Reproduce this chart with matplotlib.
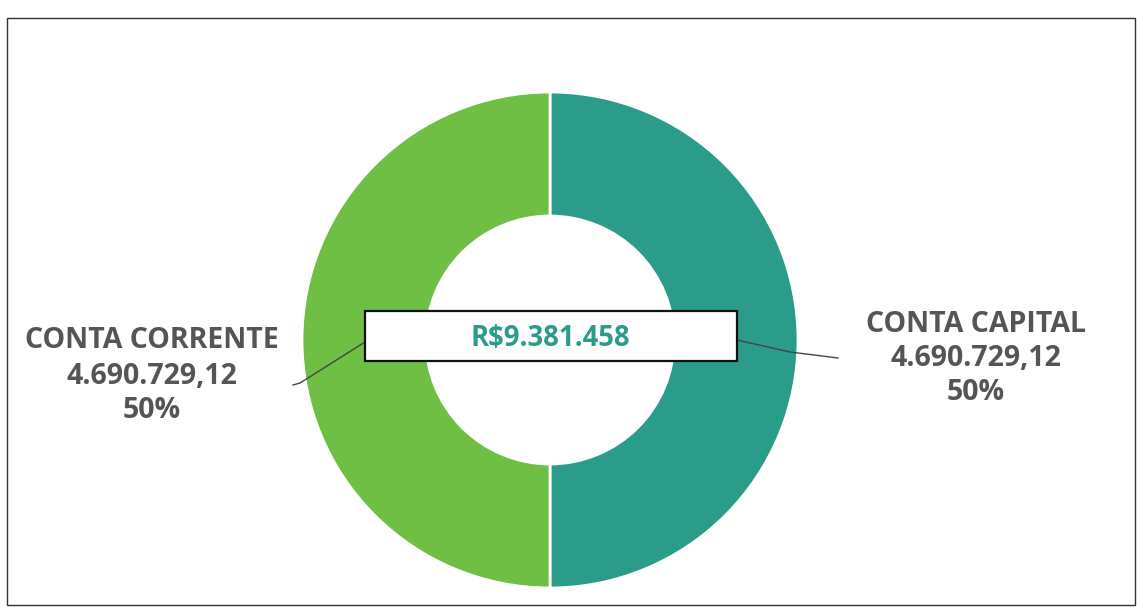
import matplotlib
matplotlib.use("Agg")
import matplotlib.pyplot as plt
from matplotlib.patches import Rectangle

categories = ["CONTA CAPITAL", "CONTA CORRENTE"]
values = [4690729.12, 4690729.12]
value_labels = ["4.690.729,12", "4.690.729,12"]
pct_labels = ["50%", "50%"]
total_label = "R$9.381.458"
colors = ["#2b9c8a", "#6fbf45"]

W, H = 1137, 609
fig = plt.figure(figsize=(W / 100, H / 100), dpi=100)
ax = fig.add_axes([0, 0, 1, 1])

def Y(y):
    return H - y

cx, cy, r = 550, Y(340), 248
ax.pie(values, colors=colors, startangle=90, counterclock=False, radius=r, center=(cx, cy),
       wedgeprops=dict(width=124, edgecolor="white", linewidth=2), frame=True)
ax.set_xlim(0, W)
ax.set_ylim(0, H)
ax.set_aspect("equal")
ax.axis("off")

# frame
ax.add_patch(Rectangle((7, Y(605)), 1128, 587, fill=False, edgecolor="#333333", lw=1.0, zorder=1))

# leader lines
ax.plot([293, 300, 308, 365], [Y(385), Y(383), Y(378), Y(342)], color="#444444", lw=1.0, zorder=3)
ax.plot([737, 790, 838], [Y(340), Y(352), Y(358)], color="#444444", lw=1.0, zorder=3)

# center box
ax.add_patch(Rectangle((365, Y(361)), 372, 50, facecolor="white", edgecolor="#111111", lw=1.6, zorder=4))
ax.text(550, Y(338), total_label, ha="center", va="center", fontsize=19.8, fontweight="bold",
        color=colors[0], family="Open Sans", zorder=5)

lab_kw = dict(ha="center", va="center", fontsize=20.5, fontweight="bold", color="#555555", family="Open Sans")
# left label (CONTA CORRENTE)
lx = 152
ax.text(lx, Y(340), categories[1], **lab_kw)
ax.text(lx, Y(377), value_labels[1], **lab_kw)
ax.text(lx, Y(410), pct_labels[1], **lab_kw)
# right label (CONTA CAPITAL)
rx = 976
ax.text(rx, Y(325), categories[0], **lab_kw)
ax.text(rx, Y(359), value_labels[0], **lab_kw)
ax.text(rx, Y(393), pct_labels[0], **lab_kw)

fig.savefig("out.png", dpi=100)
